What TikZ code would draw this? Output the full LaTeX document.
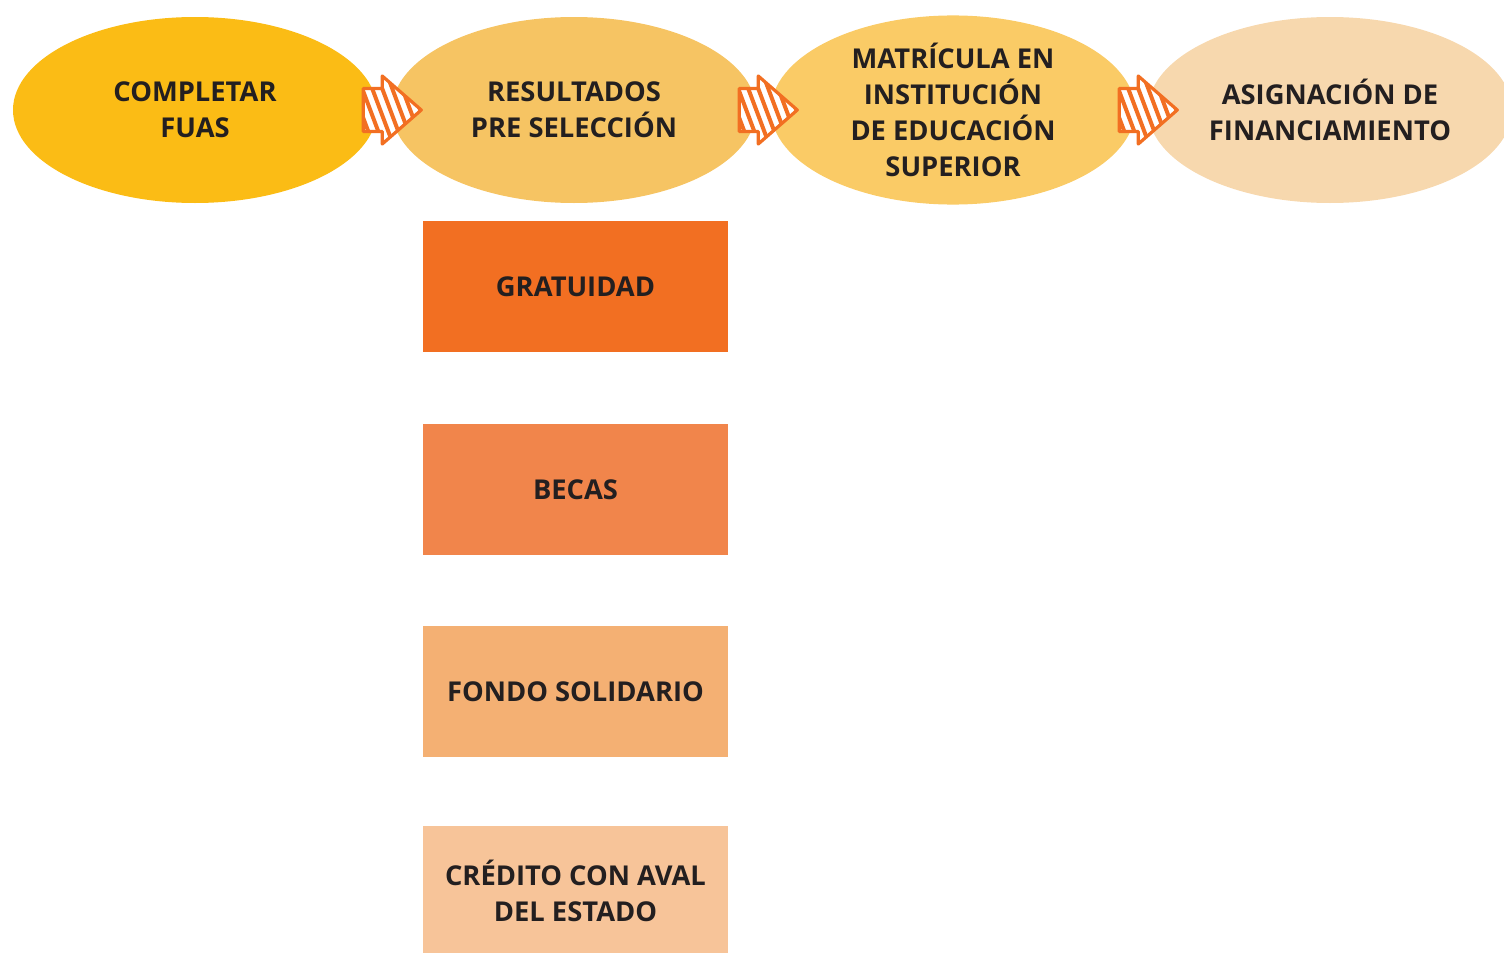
\documentclass[tikz,border=0pt]{standalone}
\usepackage{fontspec}
\setmainfont{Open Sans}
\usetikzlibrary{shapes.geometric}
\definecolor{txt}{HTML}{231F20}
\definecolor{cA}{HTML}{FBBC15}
\definecolor{cB}{HTML}{F6C463}
\definecolor{cC}{HTML}{FACB66}
\definecolor{cD}{HTML}{F7D8AE}
\definecolor{bA}{HTML}{F26F22}
\definecolor{bB}{HTML}{F1854B}
\definecolor{bC}{HTML}{F4B073}
\definecolor{bD}{HTML}{F7C499}
\definecolor{arr}{HTML}{F26F22}
\tikzset{
  lbl/.style={text=txt,font=\fontsize{20.5}{27}\selectfont\bfseries,align=center},
  oval/.style={ellipse,minimum width=273pt,minimum height=139.5pt,inner sep=0pt,draw=none,lbl},
  fbox/.style={rectangle,minimum width=228.75pt,minimum height=98.25pt,inner sep=0pt,draw=none,lbl},
  hatcharrow/.pic={
    \path[fill=white] (0,-21.5) -- (19,-21.5) -- (19,-34) -- (58,0) -- (19,34) -- (19,21.5) -- (0,21.5) -- cycle;
    \begin{scope}
      \clip (0,-21.5) -- (19,-21.5) -- (19,-34) -- (58,0) -- (19,34) -- (19,21.5) -- (0,21.5) -- cycle;
      \foreach \i in {-3,...,6} \draw[arr,line width=3pt,line cap=round] (\i*10-8,-40) -- (\i*10+22,40);
    \end{scope}
    \draw[arr,line width=2.4pt,line join=round] (0,-21.5) -- (19,-21.5) -- (19,-34) -- (58,0) -- (19,34) -- (19,21.5) -- (0,21.5) -- cycle;
  }
}
\begin{document}
\begin{tikzpicture}[x=0.75pt,y=-0.75pt]
\useasboundingbox (0,0) rectangle (1504,953);
\clip (0,0) rectangle (1504,953);
\node[oval,fill=cA] (e1) at (195,110) {COMPLETAR\\FUAS};
\node[oval,fill=cB] (e2) at (574,110) {RESULTADOS\\PRE SELECCIÓN};
\node[oval,fill=cC] (e3) at (953,110) {MATRÍCULA EN\\INSTITUCIÓN\\DE EDUCACIÓN\\SUPERIOR};
\node[oval,fill=cD] (e4) at (1330,110) {ASIGNACIÓN DE\\FINANCIAMIENTO};
\path (e1.east) ++(-14,0) pic {hatcharrow};
\path (e2.east) ++(-17,0) pic {hatcharrow};
\path (e3.east) ++(-16,0) pic {hatcharrow};
\node[fbox,fill=bA] (b1) at (575.5,286.5) {GRATUIDAD};
\node[fbox,fill=bB] (b2) at (575.5,489.5) {BECAS};
\node[fbox,fill=bC] (b3) at (575.5,691.5) {FONDO SOLIDARIO};
\node[fbox,fill=bD] (b4) at (575.5,891) {CRÉDITO CON AVAL\\DEL ESTADO};
\end{tikzpicture}
\end{document}
